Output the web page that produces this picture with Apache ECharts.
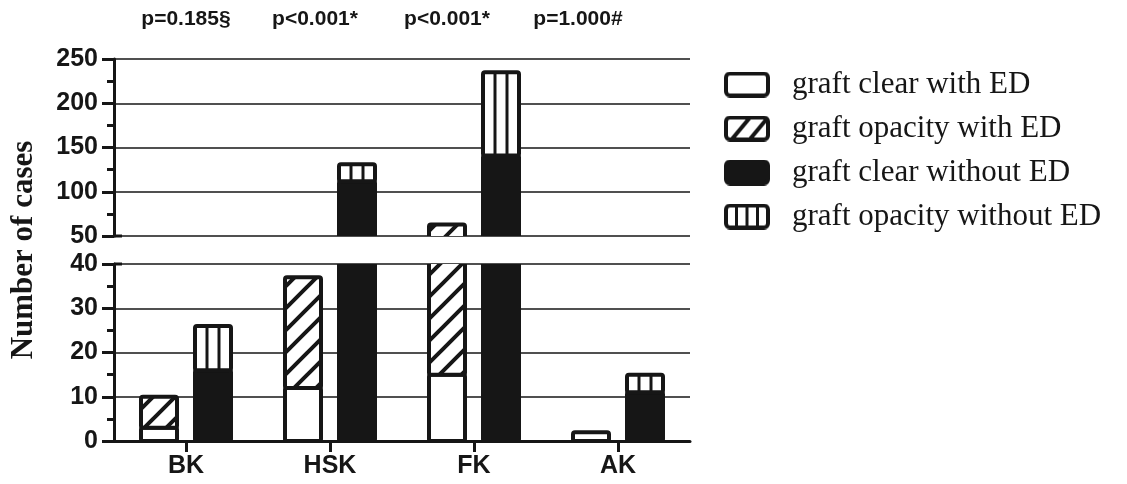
<!DOCTYPE html>
<html>
<head>
<meta charset="utf-8">
<script src="https://cdn.jsdelivr.net/npm/echarts@6/dist/echarts.min.js"></script>
<style>
    html, body { margin: 0; padding: 0; background: #fff; }
    #divChart { width: 1127px; height: 484px; }
</style>
</head>
<body>
<div id="divChart"></div>
<script>
// values
var arrCats = ['BK', 'HSK', 'FK', 'AK'];
var arrClearWithED = [3, 12, 15, 2];
var arrOpacityWithED = [7, 25, 48, 0];
var arrClearWithoutED = [16, 112, 141, 11];
var arrOpacityWithoutED = [10, 19, 94, 4];
var arrPValues = ['p=0.185§', 'p<0.001*', 'p<0.001*', 'p=1.000#'];
var arrPValueX = [186, 315, 447, 578];
var arrNames = ['graft clear with ED', 'graft opacity with ED', 'graft clear without ED', 'graft opacity without ED'];

var strInk = '#161616';
var strSans = 'Liberation Sans, Arial, sans-serif';
var strSerif = 'Liberation Serif, Times New Roman, serif';
var intBarW = 36;

function MakeHatch() {
    var cvs = document.createElement('canvas');
    cvs.width = 22;
    cvs.height = 22;
    var ctx = cvs.getContext('2d');
    ctx.fillStyle = '#fff';
    ctx.fillRect(0, 0, 22, 22);
    ctx.strokeStyle = strInk;
    ctx.lineWidth = 4;
    ctx.beginPath();
    ctx.moveTo(-5, 27); ctx.lineTo(27, -5);
    ctx.moveTo(-5, 5); ctx.lineTo(5, -5);
    ctx.moveTo(17, 27); ctx.lineTo(27, 17);
    ctx.stroke();
    return { image: cvs, repeat: 'repeat' };
};
var objHatch = MakeHatch();

// kind: 0 clear-with, 1 opacity-with, 2 clear-without, 3 opacity-without
function MakeLegendIcon(intKind) {
    var cvs = document.createElement('canvas');
    cvs.width = 46;
    cvs.height = 26;
    var ctx = cvs.getContext('2d');
    ctx.beginPath();
    ctx.roundRect(2, 2, 42, 22, 4);
    ctx.fillStyle = intKind == 2 ? strInk : '#fff';
    ctx.fill();
    ctx.save();
    ctx.clip();
    ctx.strokeStyle = strInk;
    if (intKind == 1) {
        ctx.lineWidth = 4;
        ctx.beginPath();
        ctx.moveTo(6, 26); ctx.lineTo(26, 2);
        ctx.moveTo(24, 26); ctx.lineTo(44, 2);
        ctx.stroke();
    } else if (intKind == 3) {
        ctx.lineWidth = 3;
        ctx.beginPath();
        for (var intL = 1; intL < 4; intL++) {
            ctx.moveTo(2 + intL * 10.5, 0); ctx.lineTo(2 + intL * 10.5, 26);
        };
        ctx.stroke();
    };
    ctx.restore();
    ctx.beginPath();
    ctx.roundRect(2, 2, 42, 22, 4);
    ctx.lineWidth = 4;
    ctx.strokeStyle = strInk;
    ctx.stroke();
    return 'image://' + cvs.toDataURL();
};

function MakeRender(intKind, fltOffset) {
    return function(params, api) {
        var ptBase = api.coord([api.value(0), api.value(1)]);
        var ptTop = api.coord([api.value(0), api.value(2)]);
        var fltX = ptBase[0] + fltOffset - intBarW / 2;
        var fltY = ptTop[1];
        var fltH = ptBase[1] - ptTop[1];
        var strFill = intKind == 2 ? strInk : (intKind == 1 ? objHatch : '#fff');
        var arrKids = [{
            type: 'rect',
            shape: { x: fltX, y: fltY, width: intBarW, height: fltH },
            style: { fill: strFill, stroke: null }
        }];
        if (intKind == 3) {
            for (var intL = 1; intL < 3; intL++) {
                var fltLX = fltX + intL * intBarW / 3;
                arrKids.push({
                    type: 'line',
                    shape: { x1: fltLX, y1: fltY, x2: fltLX, y2: fltY + fltH },
                    style: { stroke: strInk, lineWidth: 3 }
                });
            };
        };
        arrKids.push({
            type: 'rect',
            shape: { x: fltX, y: fltY, width: intBarW, height: fltH, r: 2 },
            style: { fill: null, stroke: strInk, lineWidth: 4 }
        });
        return { type: 'group', children: arrKids };
    };
};

var arrSeries = [];
for (var intG = 0; intG < 2; intG++) {
    for (var intK = 0; intK < 4; intK++) {
        var arrItems = [];
        for (var intC = 0; intC < arrCats.length; intC++) {
            var fltBase, fltTop;
            if (intK == 0) { fltBase = 0; fltTop = arrClearWithED[intC]; }
            if (intK == 1) { fltBase = arrClearWithED[intC]; fltTop = fltBase + arrOpacityWithED[intC]; }
            if (intK == 2) { fltBase = 0; fltTop = arrClearWithoutED[intC]; }
            if (intK == 3) { fltBase = arrClearWithoutED[intC]; fltTop = fltBase + arrOpacityWithoutED[intC]; }
            if (fltTop > fltBase) arrItems.push([intC, fltBase, fltTop]);
        };
        arrSeries.push({
            name: arrNames[intK],
            type: 'custom',
            xAxisIndex: intG,
            yAxisIndex: intG,
            clip: true,
            silent: true,
            renderItem: MakeRender(intK, intK < 2 ? -27 : 27),
            encode: { x: 0, y: [1, 2] },
            data: arrItems
        });
    };
};

function YAxis(intG, intMin, intMax, intStep) {
    return {
        type: 'value',
        gridIndex: intG,
        min: intMin,
        max: intMax,
        interval: intStep,
        axisLine: { show: true, lineStyle: { color: strInk, width: 3 } },
        axisTick: { show: true, length: 12, lineStyle: { color: strInk, width: 3 } },
        minorTick: { show: true, splitNumber: 2, length: 7, lineStyle: { color: strInk, width: 3 } },
        axisLabel: { color: strInk, fontSize: 25, fontWeight: 'bold', fontFamily: strSans, margin: 16 },
        splitLine: { show: true, lineStyle: { color: strInk, width: 1.5 } }
    };
};

var arrGraphic = [{
    type: 'text',
    x: 24,
    y: 250,
    rotation: Math.PI / 2,
    style: {
        text: 'Number of cases',
        font: 'bold 31px ' + strSerif,
        fill: strInk,
        textAlign: 'center',
        textVerticalAlign: 'middle'
    }
}, {
    type: 'line',
    shape: { x1: 114, y1: 236, x2: 122, y2: 236 },
    style: { stroke: strInk, lineWidth: 3 }
}, {
    type: 'line',
    shape: { x1: 114, y1: 264, x2: 122, y2: 264 },
    style: { stroke: strInk, lineWidth: 3 }
}];
for (var intP = 0; intP < arrPValues.length; intP++) {
    arrGraphic.push({
        type: 'text',
        x: arrPValueX[intP],
        y: 19,
        style: {
            text: arrPValues[intP],
            font: 'bold 21px ' + strSans,
            fill: strInk,
            textAlign: 'center',
            textVerticalAlign: 'middle'
        }
    });
};

var arrLegend = [];
for (var intN = 0; intN < arrNames.length; intN++) {
    arrLegend.push({ name: arrNames[intN], icon: MakeLegendIcon(intN) });
};

var chartBar = echarts.init(document.getElementById('divChart'), null, { renderer: 'canvas' });
chartBar.setOption({
    animation: false,
    backgroundColor: '#fff',
    grid: [
        { left: 114, width: 576, top: 59, height: 177 },
        { left: 114, width: 576, top: 264, height: 177 }
    ],
    xAxis: [{
        type: 'category',
        gridIndex: 0,
        data: arrCats,
        show: false
    }, {
        type: 'category',
        gridIndex: 1,
        data: arrCats,
        axisLine: { show: true, lineStyle: { color: strInk, width: 3 } },
        axisTick: { show: true, alignWithLabel: true, length: 11, lineStyle: { color: strInk, width: 3 } },
        axisLabel: { color: strInk, fontSize: 25, fontWeight: 'bold', fontFamily: strSans, margin: 13 }
    }],
    yAxis: [YAxis(0, 50, 250, 50), YAxis(1, 0, 40, 10)],
    legend: {
        orient: 'vertical',
        left: 719,
        top: 64,
        itemWidth: 46,
        itemHeight: 26,
        itemGap: 13,
        selectedMode: false,
        data: arrLegend,
        textStyle: { color: strInk, fontSize: 31, fontFamily: strSerif, padding: [0, 0, 0, 17] }
    },
    graphic: arrGraphic,
    series: arrSeries
});
</script>
</body>
</html>
